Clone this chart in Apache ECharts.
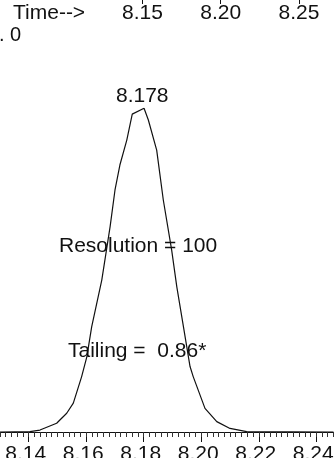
<!DOCTYPE html>
<html>
<head>
<meta charset="utf-8">
<script src="https://cdn.jsdelivr.net/npm/echarts@6/dist/echarts.min.js"></script>
<style>
html,body{margin:0;padding:0;background:#fff;}
#c{width:334px;height:458px;}
</style>
</head>
<body>
<div id="c"></div>
<script>
// Peak trace: retention time (min) and signal (relative, apex = 100)
var times = [8.1300, 8.1404, 8.1439, 8.1497, 8.1532, 8.1555, 8.1584, 8.1602, 8.1619, 8.1654, 8.1683, 8.1700, 8.1717, 8.1741, 8.1760, 8.1801,
             8.1816, 8.1845, 8.1868, 8.1897, 8.1915, 8.1938, 8.1961, 8.1972, 8.2013, 8.2054, 8.2100, 8.2158, 8.2460];
var signal = [0, 0.1, 0.6, 2.7, 5.8, 8.9, 17.1, 23.2, 32.5, 46.9, 63.4, 74.7, 82.4, 90.1, 98.1, 99.9,
              96.3, 87.0, 71.6, 56.2, 44.8, 32.5, 20.2, 17.1, 7.3, 3.2, 1.1, 0.1, 0];
// Bottom axis tick labels
var bottomMajor = [8.14, 8.16, 8.18, 8.20, 8.22, 8.24];
// Top (cropped upper chromatogram) axis labels
var topMajor = [8.15, 8.20, 8.25];
var topTitle = 'Time-->';
var apexLabel = '8.178';
var resolutionText = 'Resolution = 100';
var tailingText = 'Tailing =  0.86*';
var croppedYLabel = '. 0';

var minor = [];
for (var i = 0; i <= 58; i++) { minor.push(+(8.130 + i * 0.002).toFixed(3)); }

var FONT = "'Liberation Sans', Arial, sans-serif";
var data = times.map(function (t, i) { return [t, signal[i]]; });

var chart = echarts.init(document.getElementById('c'), null, {renderer: 'canvas'});
chart.setOption({
  animation: false,
  backgroundColor: '#fff',
  grid: [
    {left: 0, right: 0.5, top: 108, bottom: 26, outerBoundsMode: 'none', containLabel: false},
    {left: 0, right: 0, top: -50, height: 47, outerBoundsMode: 'none', containLabel: false}
  ],
  xAxis: [
    {
      gridIndex: 0, type: 'value', min: 8.13, max: 8.246, position: 'bottom',
      axisLine: {show: true, onZero: false, lineStyle: {color: '#111', width: 1}},
      axisTick: {show: true, customValues: bottomMajor, length: 10, lineStyle: {color: '#111', width: 1}},
      axisLabel: {show: true, customValues: bottomMajor, margin: 12, padding: [0, 6, 0, 0],
        color: '#111', fontSize: 21, fontFamily: FONT,
        formatter: function (v) { return (+v).toFixed(2); }},
      splitLine: {show: false}
    },
    {
      gridIndex: 0, type: 'value', min: 8.13, max: 8.246, position: 'bottom',
      axisLine: {show: false, onZero: false},
      axisTick: {show: true, customValues: minor, length: 5, lineStyle: {color: '#333', width: 1}},
      axisLabel: {show: false},
      splitLine: {show: false}
    },
    {
      gridIndex: 1, type: 'value', min: 8.05895, max: 8.27237, position: 'bottom',
      axisLine: {show: false, onZero: false},
      axisTick: {show: true, customValues: topMajor, length: 7, lineStyle: {color: '#111', width: 1}},
      axisLabel: {show: true, customValues: topMajor, margin: 6,
        color: '#111', fontSize: 21, fontFamily: FONT,
        formatter: function (v) { return (+v).toFixed(2); }},
      splitLine: {show: false}
    }
  ],
  yAxis: [
    {gridIndex: 0, type: 'value', min: 0, max: 100, show: false},
    {gridIndex: 1, type: 'value', min: 0, max: 1, show: false}
  ],
  series: [{
    type: 'line', xAxisIndex: 0, yAxisIndex: 0, data: data,
    symbol: 'none', smooth: false,
    lineStyle: {color: '#111', width: 1.2}
  }],
  graphic: [
    {type: 'text', left: 13, top: 3, style: {text: topTitle, fill: '#111', font: '21px ' + FONT}},
    {type: 'text', left: -1, top: 25, style: {text: croppedYLabel, fill: '#111', font: '20px ' + FONT}},
    {type: 'text', left: 116, top: 86, style: {text: apexLabel, fill: '#111', font: '21px ' + FONT}},
    {type: 'text', left: 59, top: 236, style: {text: resolutionText, fill: '#111', font: '21px ' + FONT}},
    {type: 'text', left: 68, top: 341, style: {text: tailingText, fill: '#111', font: '21px ' + FONT}}
  ]
});
</script>
</body>
</html>
